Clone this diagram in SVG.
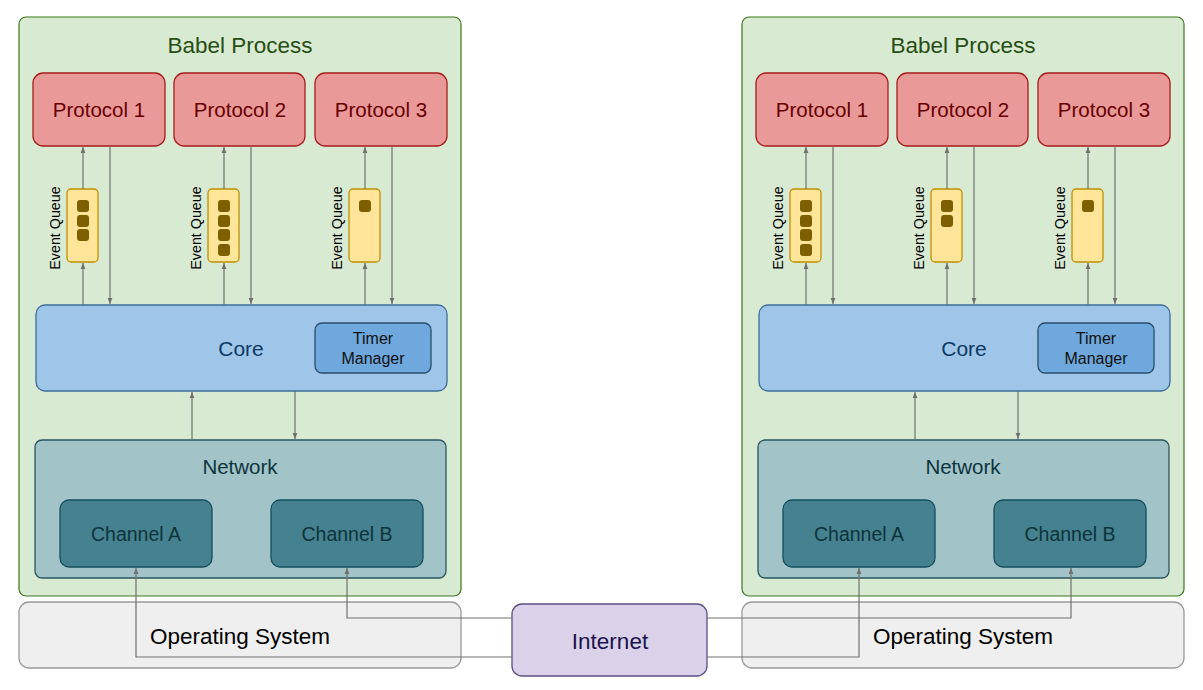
<svg xmlns="http://www.w3.org/2000/svg" width="1203" height="690" viewBox="0 0 1203 690">
<style>
text{font-family:"Liberation Sans",Arial,sans-serif;text-anchor:middle;dominant-baseline:central}
.proc{fill:#d9ead3;stroke:#38761d;stroke-width:1.2}
.proto{fill:#ea9999;stroke:#a61c1c;stroke-width:1.3}
.core{fill:#9fc5e8;stroke:#3d6d99;stroke-width:1.3}
.timer{fill:#6fa8dc;stroke:#294e6f;stroke-width:1.3}
.net{fill:#a2c4c9;stroke:#2a5560;stroke-width:1.3}
.chan{fill:#45818e;stroke:#134f5c;stroke-width:1.3}
.os{fill:#efefef;stroke:#9a9a9a;stroke-width:1.3}
.inet{fill:#d9d2e9;stroke:#5b4f86;stroke-width:1.3}
.q{fill:#ffe599;stroke:#bf9000;stroke-width:1.3}
.qi{fill:#7f6000}
.c{fill:none;stroke:#707070;stroke-width:1.2}
.t-title{font-size:22.5px;fill:#274e13}
.t-proto{font-size:20.5px;fill:#660000}
.t-eq{font-size:14.3px;fill:#000}
.t-core{font-size:21px;fill:#0b3a63}
.t-timer{font-size:16px;fill:#111}
.t-net{font-size:20.5px;fill:#0c343d}
.t-chan{font-size:19.5px;fill:#0c343d}
.t-os{font-size:22.5px;fill:#000}
.t-inet{font-size:22.5px;fill:#20124d}
</style>
<defs>
<marker id="ah" viewBox="0 0 10 10" refX="10" refY="5" markerWidth="6" markerHeight="6" orient="auto" markerUnits="userSpaceOnUse">
<path d="M0,1 L10,5 L0,9 z" fill="#707070"/>
</marker>
</defs>

<g id="left-process">
<g id="babel-process-left"><rect class="proc" x="19" y="17" width="442" height="579" rx="7"/><text class="t-title" x="240" y="45">Babel Process</text></g>
<g id="protocol1-left"><rect class="proto" x="33" y="73" width="132" height="73" rx="10"/><text class="t-proto" x="99" y="109">Protocol 1</text></g>
<g id="protocol2-left"><rect class="proto" x="174" y="73" width="131" height="73" rx="10"/><text class="t-proto" x="240" y="109">Protocol 2</text></g>
<g id="protocol3-left"><rect class="proto" x="315" y="73" width="132" height="73" rx="10"/><text class="t-proto" x="381" y="109">Protocol 3</text></g>
<g id="queue1-left"><rect class="q" x="67" y="189" width="31" height="73" rx="4"/><rect class="qi" x="77" y="200" width="12" height="12" rx="3"/><rect class="qi" x="77" y="215" width="12" height="12" rx="3"/><rect class="qi" x="77" y="229" width="12" height="12" rx="3"/><text class="t-eq" transform="translate(55,228) rotate(-90)">Event Queue</text></g>
<g id="queue2-left"><rect class="q" x="208" y="189" width="31" height="73" rx="4"/><rect class="qi" x="218" y="200" width="12" height="12" rx="3"/><rect class="qi" x="218" y="215" width="12" height="12" rx="3"/><rect class="qi" x="218" y="229" width="12" height="12" rx="3"/><rect class="qi" x="218" y="244" width="12" height="12" rx="3"/><text class="t-eq" transform="translate(196,228) rotate(-90)">Event Queue</text></g>
<g id="queue3-left"><rect class="q" x="349" y="189" width="31" height="73" rx="4"/><rect class="qi" x="359" y="200" width="12" height="12" rx="3"/><text class="t-eq" transform="translate(337,228) rotate(-90)">Event Queue</text></g>
<g id="core-left"><rect class="core" x="36" y="305" width="411" height="86" rx="9"/><text class="t-core" x="241" y="348">Core</text></g>
<g id="timer-left"><rect class="timer" x="315" y="323" width="116" height="50" rx="7"/><text class="t-timer" x="373" y="338">Timer</text><text class="t-timer" x="373" y="358">Manager</text></g>
<g id="network-left"><rect class="net" x="35" y="440" width="411" height="138" rx="7"/><text class="t-net" x="240" y="466">Network</text></g>
<g id="channelA-left"><rect class="chan" x="60" y="500" width="152" height="67" rx="9"/><text class="t-chan" x="136" y="534">Channel A</text></g>
<g id="channelB-left"><rect class="chan" x="271" y="500" width="152" height="67" rx="9"/><text class="t-chan" x="347" y="534">Channel B</text></g>
<g id="os-left"><rect class="os" x="19" y="602" width="442" height="66" rx="10"/><text class="t-os" x="240" y="636">Operating System</text></g>
</g>

<g id="right-process" transform="translate(723,0)">
<g id="babel-process-right"><rect class="proc" x="19" y="17" width="442" height="579" rx="7"/><text class="t-title" x="240" y="45">Babel Process</text></g>
<g id="protocol1-right"><rect class="proto" x="33" y="73" width="132" height="73" rx="10"/><text class="t-proto" x="99" y="109">Protocol 1</text></g>
<g id="protocol2-right"><rect class="proto" x="174" y="73" width="131" height="73" rx="10"/><text class="t-proto" x="240" y="109">Protocol 2</text></g>
<g id="protocol3-right"><rect class="proto" x="315" y="73" width="132" height="73" rx="10"/><text class="t-proto" x="381" y="109">Protocol 3</text></g>
<g id="queue1-right"><rect class="q" x="67" y="189" width="31" height="73" rx="4"/><rect class="qi" x="77" y="200" width="12" height="12" rx="3"/><rect class="qi" x="77" y="215" width="12" height="12" rx="3"/><rect class="qi" x="77" y="229" width="12" height="12" rx="3"/><rect class="qi" x="77" y="244" width="12" height="12" rx="3"/><text class="t-eq" transform="translate(55,228) rotate(-90)">Event Queue</text></g>
<g id="queue2-right"><rect class="q" x="208" y="189" width="31" height="73" rx="4"/><rect class="qi" x="218" y="200" width="12" height="12" rx="3"/><rect class="qi" x="218" y="215" width="12" height="12" rx="3"/><text class="t-eq" transform="translate(196,228) rotate(-90)">Event Queue</text></g>
<g id="queue3-right"><rect class="q" x="349" y="189" width="31" height="73" rx="4"/><rect class="qi" x="359" y="200" width="12" height="12" rx="3"/><text class="t-eq" transform="translate(337,228) rotate(-90)">Event Queue</text></g>
<g id="core-right"><rect class="core" x="36" y="305" width="411" height="86" rx="9"/><text class="t-core" x="241" y="348">Core</text></g>
<g id="timer-right"><rect class="timer" x="315" y="323" width="116" height="50" rx="7"/><text class="t-timer" x="373" y="338">Timer</text><text class="t-timer" x="373" y="358">Manager</text></g>
<g id="network-right"><rect class="net" x="35" y="440" width="411" height="138" rx="7"/><text class="t-net" x="240" y="466">Network</text></g>
<g id="channelA-right"><rect class="chan" x="60" y="500" width="152" height="67" rx="9"/><text class="t-chan" x="136" y="534">Channel A</text></g>
<g id="channelB-right"><rect class="chan" x="271" y="500" width="152" height="67" rx="9"/><text class="t-chan" x="347" y="534">Channel B</text></g>
<g id="os-right"><rect class="os" x="19" y="602" width="442" height="66" rx="10"/><text class="t-os" x="240" y="636">Operating System</text></g>
</g>

<g id="internet"><rect class="inet" x="512" y="604" width="195" height="72" rx="10"/><text class="t-inet" x="610" y="641">Internet</text></g>

<g id="connectors">
<g id="conn-left" class="c" marker-end="url(#ah)">
<path d="M83,189 V147"/><path d="M83,305 V263"/><path d="M110,147 V304"/>
<path d="M224,189 V147"/><path d="M224,305 V263"/><path d="M251,147 V304"/>
<path d="M365,189 V147"/><path d="M365,305 V263"/><path d="M392,147 V304"/>
<path d="M192,440 V392"/><path d="M295,391 V439"/>
</g>
<g id="conn-right" class="c" marker-end="url(#ah)" transform="translate(723,0)">
<path d="M83,189 V147"/><path d="M83,305 V263"/><path d="M110,147 V304"/>
<path d="M224,189 V147"/><path d="M224,305 V263"/><path d="M251,147 V304"/>
<path d="M365,189 V147"/><path d="M365,305 V263"/><path d="M392,147 V304"/>
<path d="M192,440 V392"/><path d="M295,391 V439"/>
</g>
<g id="conn-internet" class="c" marker-end="url(#ah)">
<path d="M512,657 H136 V568"/>
<path d="M512,618 H347 V568"/>
<path d="M707,618 H1071 V568"/>
<path d="M707,657 H859 V568"/>
</g>
</g>
</svg>
